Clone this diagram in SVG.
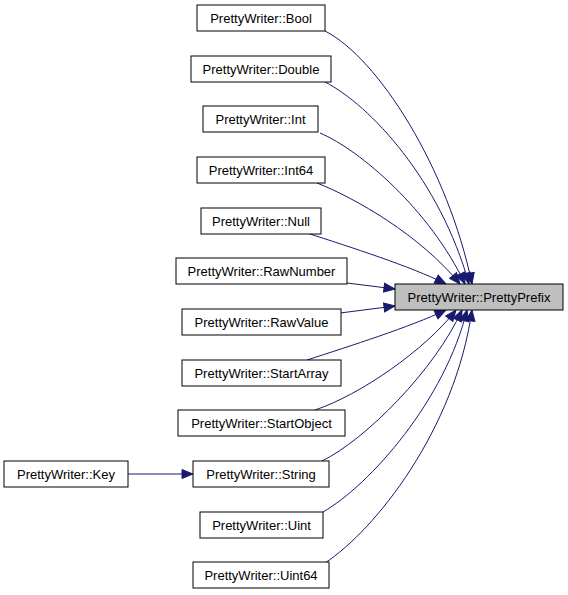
<svg xmlns="http://www.w3.org/2000/svg" width="568" height="595" viewBox="0 0 568 595">
<style>
.n rect{fill:#ffffff;stroke:#000000;stroke-width:1}
.n.hl rect{fill:#bfbfbf}
.n text{font-family:"Liberation Sans",Arial,sans-serif;font-size:13px;text-anchor:middle;fill:#000000}
.e path{fill:none;stroke:#191970;stroke-width:1;marker-end:url(#arr)}
</style>
<defs>
<marker id="arr" markerUnits="userSpaceOnUse" markerWidth="14" markerHeight="12" refX="12" refY="5" orient="auto" overflow="visible">
<path d="M1,0.5 L12,5 L1,9.5 z" fill="#191970" stroke="#191970" stroke-width="1"/>
</marker>
</defs>
<rect width="568" height="595" fill="#ffffff"/>
<g id="edges" class="e">
<path d="M325,31 C378,58 448,168 472,284"/>
<path d="M325,82 C370,105 440,180 469,284"/>
<path d="M320,133 C360,150 430,210 465,284"/>
<path d="M317,183 C355,198 420,235 460,284"/>
<path d="M307,233 C350,247 410,266 446,284"/>
<path d="M347,283 L395,289"/>
<path d="M340,313 L395,306"/>
<path d="M307,360 C350,346 410,327 446,310"/>
<path d="M315,410 C360,395 425,350 456,310"/>
<path d="M322,461 C365,440 435,370 462,310"/>
<path d="M323,512 C370,485 445,400 467,310"/>
<path d="M325,563 C375,530 455,430 472,310"/>
<path d="M128,474 L193,474"/>
</g>
<g id="PrettyPrefix" class="n hl"><rect x="395" y="284" width="168" height="26"/><text x="479" y="301.5">PrettyWriter::PrettyPrefix</text></g>
<g id="Bool" class="n"><rect x="197" y="5" width="128" height="26"/><text x="261" y="22.5">PrettyWriter::Bool</text></g>
<g id="Double" class="n"><rect x="191" y="56" width="140" height="26"/><text x="261" y="73.5">PrettyWriter::Double</text></g>
<g id="Int" class="n"><rect x="203" y="106" width="115" height="26"/><text x="260.5" y="123.5">PrettyWriter::Int</text></g>
<g id="Int64" class="n"><rect x="197" y="157" width="128" height="26"/><text x="261" y="174.5">PrettyWriter::Int64</text></g>
<g id="Null" class="n"><rect x="201" y="208" width="120" height="26"/><text x="261" y="225.5">PrettyWriter::Null</text></g>
<g id="RawNumber" class="n"><rect x="176" y="258" width="171" height="26"/><text x="261.5" y="275.5">PrettyWriter::RawNumber</text></g>
<g id="RawValue" class="n"><rect x="182" y="309" width="159" height="26"/><text x="261.5" y="326.5">PrettyWriter::RawValue</text></g>
<g id="StartArray" class="n"><rect x="182" y="360" width="159" height="26"/><text x="261.5" y="377.5">PrettyWriter::StartArray</text></g>
<g id="StartObject" class="n"><rect x="178" y="410" width="167" height="26"/><text x="261.5" y="427.5">PrettyWriter::StartObject</text></g>
<g id="String" class="n"><rect x="193" y="461" width="136" height="26"/><text x="261" y="478.5">PrettyWriter::String</text></g>
<g id="Uint" class="n"><rect x="200" y="512" width="123" height="26"/><text x="261.5" y="529.5">PrettyWriter::Uint</text></g>
<g id="Uint64" class="n"><rect x="193" y="562" width="136" height="26"/><text x="261" y="579.5">PrettyWriter::Uint64</text></g>
<g id="Key" class="n"><rect x="4" y="461" width="124" height="26"/><text x="66" y="478.5">PrettyWriter::Key</text></g>
</svg>
